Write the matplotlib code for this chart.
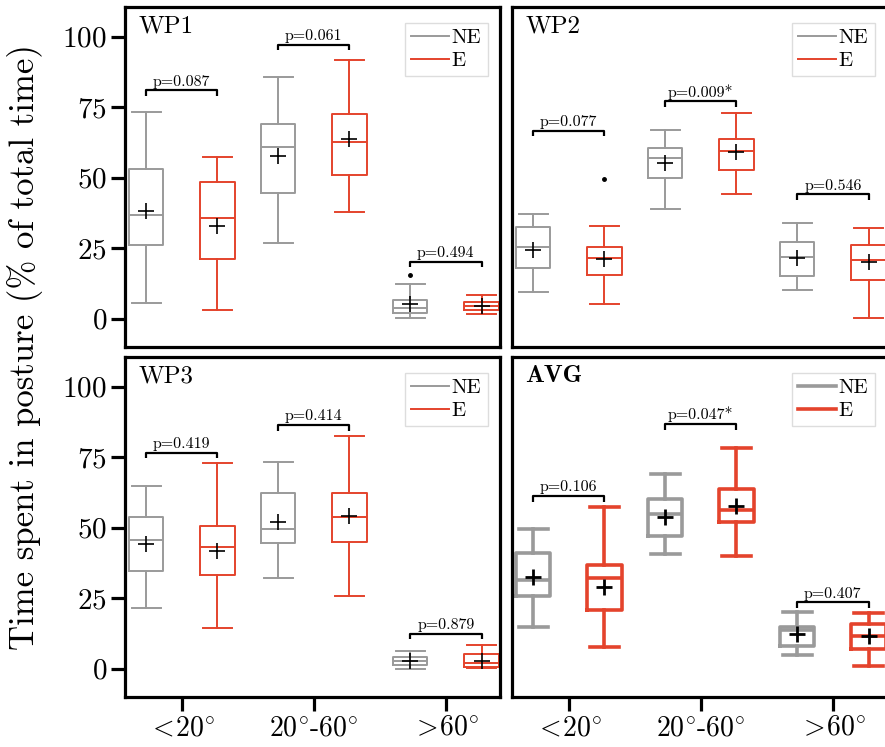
import numpy as np
import matplotlib
matplotlib.use("Agg")
import matplotlib.pyplot as plt
from matplotlib.lines import Line2D

plt.rcParams["font.family"] = "cmr10"
plt.rcParams["mathtext.fontset"] = "cm"
plt.rcParams["axes.formatter.use_mathtext"] = True

# data: per group (<20, 20-60, >60): whislo, q1, median, q3, whishi, mean
tick_labels = [r"$<\!20^{\circ}$", r"$20^{\circ}$-$60^{\circ}$", r"$>\!60^{\circ}$"]
panel_names = ["WP1", "WP2", "WP3", "AVG"]

wp1_ne = [[5.7, 26.1, 36.9, 53.1, 73.3, 38.3],
          [26.9, 44.7, 60.9, 69.1, 85.8, 57.7],
          [0.2, 2.0, 3.7, 6.5, 12.3, 5.1]]
wp1_e = [[3.2, 21.1, 35.7, 48.4, 57.4, 32.8],
         [38.0, 51.0, 62.5, 72.7, 91.7, 63.6],
         [1.7, 3.0, 4.5, 6.0, 8.6, 4.6]]
wp2_ne = [[9.4, 18.0, 25.4, 32.4, 37.1, 24.3],
          [39.0, 49.8, 56.9, 60.7, 67.0, 55.3],
          [10.1, 15.2, 21.8, 27.3, 33.8, 21.4]]
wp2_e = [[5.3, 15.4, 21.7, 25.4, 32.9, 21.1],
         [44.1, 52.8, 59.5, 63.6, 73.0, 59.1],
         [0.2, 13.6, 21.0, 26.1, 32.0, 20.2]]
wp3_ne = [[21.6, 34.8, 45.7, 53.9, 64.8, 44.1],
          [32.3, 44.7, 49.7, 62.2, 73.2, 51.9],
          [0.0, 1.3, 2.8, 4.0, 6.3, 2.8]]
wp3_e = [[14.4, 33.1, 43.2, 50.6, 72.9, 41.8],
         [25.9, 44.8, 53.8, 62.2, 82.5, 54.0],
         [0.2, 0.5, 2.2, 5.2, 8.4, 2.6]]
avg_ne = [[14.7, 25.9, 31.4, 41.2, 49.6, 32.6],
          [40.8, 47.0, 54.9, 60.1, 69.0, 53.9],
          [4.9, 8.1, 13.6, 14.7, 20.0, 12.2]]
avg_e = [[7.8, 20.8, 32.0, 36.7, 57.5, 29.1],
         [40.0, 51.9, 56.1, 63.6, 78.1, 57.7],
         [1.1, 6.9, 11.6, 15.7, 19.8, 11.6]]

# outliers: (group, value)
wp1_ne_fliers = [(2, 15.4)]
wp2_e_fliers = [(0, 49.6)]

# p-values and bracket heights per group
wp1_p = ["p=0.087", "p=0.061", "p=0.494"]
wp1_bracket = [81.0, 97.2, 20.2]
wp2_p = ["p=0.077", "p=0.009*", "p=0.546"]
wp2_bracket = [66.7, 77.1, 44.1]
wp3_p = ["p=0.419", "p=0.414", "p=0.879"]
wp3_bracket = [76.6, 86.4, 12.5]
avg_p = ["p=0.106", "p=0.047*", "p=0.407"]
avg_bracket = [61.2, 86.7, 23.6]

GRAY = "#9a9a9a"
RED = "#e4432c"
OFF = 0.27
WIDTH = 0.26


def make_stats(rows, fliers):
    out = []
    for i, r in enumerate(rows):
        out.append(dict(whislo=r[0], q1=r[1], med=r[2], q3=r[3], whishi=r[4], mean=r[5],
                        fliers=[v for g, v in fliers if g == i]))
    return out


def draw_panel(ax, ne, e, ne_fl, e_fl, pvals, brackets, name, lw, bold):
    x = np.arange(len(ne))
    for rows, fl, col, sgn in [(ne, ne_fl, GRAY, -1), (e, e_fl, RED, 1)]:
        ax.bxp(make_stats(rows, fl), positions=x + sgn * OFF, widths=WIDTH,
               showmeans=True, capwidths=WIDTH * 0.85,
               boxprops=dict(color=col, lw=lw),
               whiskerprops=dict(color=col, lw=lw),
               capprops=dict(color=col, lw=lw),
               medianprops=dict(color=col, lw=lw),
               meanprops=dict(marker="+", markersize=11, markeredgecolor="black",
                              markeredgewidth=2.0 if bold else 1.2),
               flierprops=dict(marker="o", markersize=2.5, markerfacecolor="black",
                               markeredgecolor="black"))
    for i, (p, h) in enumerate(zip(pvals, brackets)):
        x0, x1 = i - OFF, i + OFF
        ax.plot([x0, x0, x1, x1], [h - 2.0, h, h, h - 2.0], color="black", lw=1.6,
                solid_capstyle="butt")
        ax.text(i, h + 0.6, p, ha="center", va="bottom", fontsize=11.5)
    ax.text(0.035, 0.975, name, transform=ax.transAxes, ha="left", va="top",
            fontsize=18, family="cmb10" if bold else "cmr10")
    handles = [Line2D([], [], color=GRAY, lw=lw), Line2D([], [], color=RED, lw=lw)]
    ax.legend(handles, ["NE", "E"], loc="upper right", bbox_to_anchor=(0.995, 0.985),
              fontsize=15, handlelength=1.8, handletextpad=0.15, labelspacing=0.2,
              borderpad=0.3, fancybox=False, edgecolor="#dddddd", framealpha=1)
    ax.set_xlim(-0.43, 2.41)
    ax.set_ylim(-10, 110.5)
    ax.set_yticks([0, 25, 50, 75, 100])
    ax.set_xticks(x)
    ax.set_xticklabels(tick_labels)
    for s in ax.spines.values():
        s.set_linewidth(2.3)
    ax.tick_params(axis="both", length=10, width=2.3, labelsize=21, pad=3)
    ax.tick_params(axis="x", labelsize=20)


fig = plt.figure(figsize=(8.85, 7.47), dpi=100)
W, H = 885, 747
axw, axh = 375, 340
pos = [(125, 7), (512, 7), (125, 357), (512, 357)]
axes = [fig.add_axes([px / W, 1 - (py + axh) / H, axw / W, axh / H]) for px, py in pos]

draw_panel(axes[0], wp1_ne, wp1_e, wp1_ne_fliers, [], wp1_p, wp1_bracket, "WP1", 1.4, False)
draw_panel(axes[1], wp2_ne, wp2_e, [], wp2_e_fliers, wp2_p, wp2_bracket, "WP2", 1.4, False)
draw_panel(axes[2], wp3_ne, wp3_e, [], [], wp3_p, wp3_bracket, "WP3", 1.4, False)
draw_panel(axes[3], avg_ne, avg_e, [], [], avg_p, avg_bracket, "AVG", 2.6, True)

for ax in axes[:2]:
    ax.tick_params(bottom=False, labelbottom=False)
for ax in axes[1::2]:
    ax.tick_params(left=False, labelleft=False)

fig.text(0.028, 0.535, "Time spent in posture (% of total time)", rotation=90,
         ha="center", va="center", fontsize=25)

fig.savefig("out.png", dpi=100)
